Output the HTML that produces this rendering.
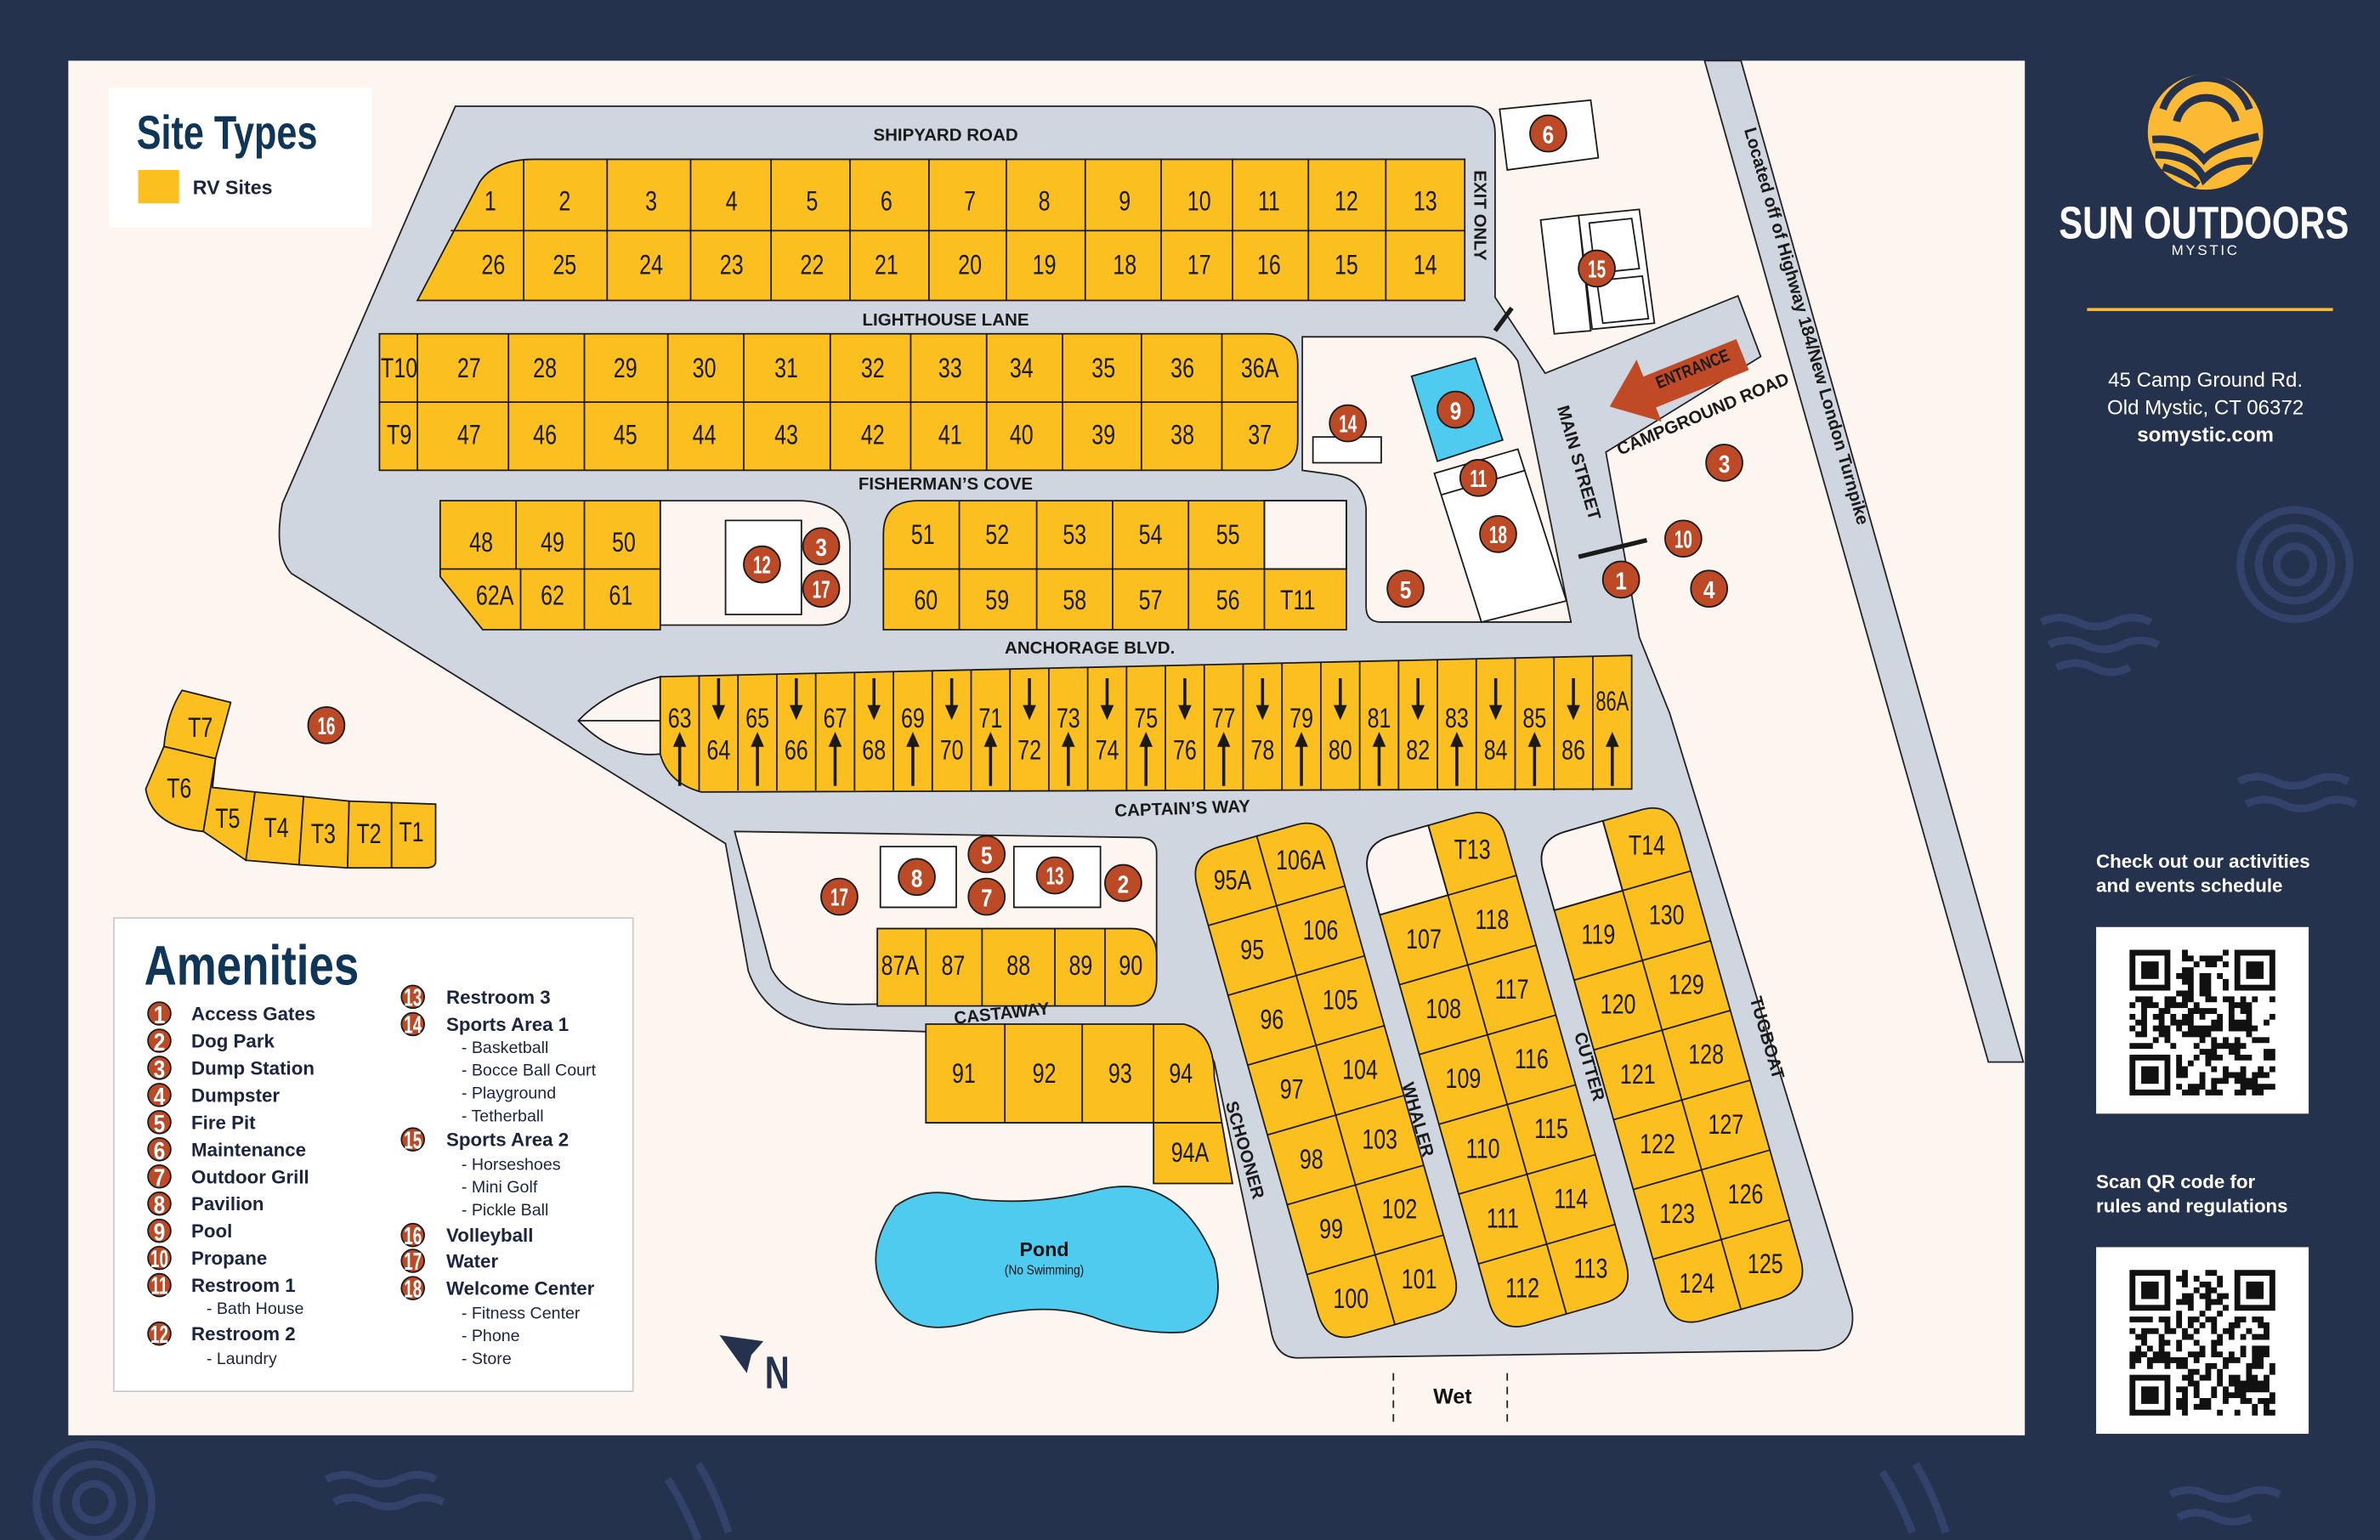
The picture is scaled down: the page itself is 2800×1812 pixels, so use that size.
<!DOCTYPE html>
<html><head><meta charset="utf-8">
<style>
html,body{margin:0;padding:0;background:#25324d;}
body{width:2800px;height:1812px;overflow:hidden;}
svg{display:block}
.n{font-family:"Liberation Sans",sans-serif;font-size:18px;fill:#1a1a1a;text-anchor:middle;dominant-baseline:central;}
.rd{font-family:"Liberation Sans",sans-serif;font-weight:bold;font-size:11.5px;fill:#1a1a1a;text-anchor:middle;dominant-baseline:central;}
.cn{font-family:"Liberation Sans",sans-serif;font-weight:bold;font-size:16px;fill:#fff;text-anchor:middle;dominant-baseline:central;}
.am{font-family:"Liberation Sans",sans-serif;font-weight:bold;font-size:12.5px;fill:#1c2540;}
.sub{font-family:"Liberation Sans",sans-serif;font-size:11px;fill:#1c2540;}
</style></head><body>
<svg id="s" width="2800" height="1812" viewBox="0 0 1568 1015" preserveAspectRatio="none" xmlns="http://www.w3.org/2000/svg">
<rect width="1568" height="1015" fill="#25324d"/>
<g fill="none" stroke="#33426a" stroke-width="5">
<circle cx="1512" cy="372" r="12"/><circle cx="1512" cy="372" r="24"/><circle cx="1512" cy="372" r="36"/>
<circle cx="62" cy="990" r="12"/><circle cx="62" cy="990" r="25"/><circle cx="62" cy="990" r="38"/>
<path d="M1345,410 q12,-6 24,0 t24,0 t24,0 M1350,425 q12,-6 24,0 t24,0 t24,0 M1355,440 q12,-6 24,0 t24,0"/>
<path d="M1475,515 q12,-6 24,0 t24,0 t24,0 M1480,530 q12,-6 24,0 t24,0 t24,0"/>
<path d="M215,975 q12,-6 24,0 t24,0 t24,0 M220,990 q12,-6 24,0 t24,0 t24,0"/>
<path d="M1430,985 q12,-6 24,0 t24,0 t24,0 M1435,1000 q12,-6 24,0 t24,0"/>
<path d="M440,975 q10,15 20,40 M460,965 q10,15 20,45 M1240,970 q10,15 20,40 M1262,965 q10,15 20,45"/>
</g>
<rect x="45" y="40" width="1289" height="906" fill="#fdf5ef"/>
<path d="M1123,40 L1147,40 L1333,700 L1310,700 Z" fill="#d0d6df" stroke="#222" stroke-width="1"/>
<path d="M300,70 L968,70 Q985,70 985,88 L985,196 L1018,246 L1145,195 L1160,235 L1058,298 L1080,420 L1100,470 L1220,862 Q1224,888 1198,890 L855,895 Q842,895 838,880 L800,700 L790,680 L612,680 L545,678 Q505,674 493,640 L478,556 L192,378 Q180,365 186,332 Z" fill="#d0d6df" stroke="#222" stroke-width="1"/>
<path d="M858,222 L975,222 Q990,222 1000,238 L1035,410 L910,410 Q900,410 900,400 L900,335 Q898,316 880,313 L858,310 Z" fill="#fdf5ef" stroke="#222" stroke-width="1"/>
<path d="M435,330 L525,330 Q560,330 560,360 L560,395 Q560,412 540,412 L435,412 Z" fill="#fdf5ef" stroke="#222" stroke-width="1"/>
<path d="M484,548 L752,552 Q762,553 762,562 L762,640 Q762,660 742,660 L560,662 Q520,662 508,638 Z" fill="#fdf5ef" stroke="#222" stroke-width="1"/>
<g id="g"></g>
<path d="M590,795 Q610,780 640,790 Q680,795 720,785 Q775,770 800,830 Q810,870 780,878 Q750,880 720,868 Q690,858 650,868 Q605,885 588,860 Q565,830 590,795 Z" fill="#4fcbef" stroke="#222" stroke-width="1"/>
<text x="688" y="828" font-family="Liberation Sans" font-weight="bold" font-size="13" text-anchor="middle" fill="#111">Pond</text>
<text x="0" y="0" font-family="Liberation Sans" font-size="9" text-anchor="middle" fill="#111" transform="translate(688 840) scale(0.85 1)">(No Swimming)</text>
<path d="M474,880 L503,884 L495,893 L492,905 Z" fill="#25324d"/>
<text x="0" y="0" font-family="Liberation Sans" font-weight="bold" font-size="30" text-anchor="middle" fill="#25324d" transform="translate(512 915) scale(0.75 1)">N</text>
<path d="M918,905 L918,937 M993,905 L993,937" stroke="#222" stroke-width="1" stroke-dasharray="5,4"/>
<text x="957" y="925" font-family="Liberation Sans" font-weight="bold" font-size="14" text-anchor="middle" fill="#111">Wet</text>
<rect x="72" y="58" width="173" height="92" fill="#fff"/>
<text x="0" y="0" font-family="Liberation Sans" font-weight="bold" font-size="31" fill="#0f3558" transform="translate(90 98) scale(0.78 1)">Site Types</text>
<rect x="91" y="112" width="27" height="22" fill="#fbbf1f"/>
<text x="127" y="128" font-family="Liberation Sans" font-weight="bold" font-size="13" fill="#1c2540">RV Sites</text>
<rect x="75" y="605" width="342" height="312" fill="#fff" stroke="#ccc" stroke-width="1"/>
<text x="0" y="0" font-family="Liberation Sans" font-weight="bold" font-size="37" fill="#0f3558" transform="translate(95 649) scale(0.8 1)">Amenities</text>
<g id="leg"></g>
<circle cx="1453" cy="87" r="38" fill="#fbb934"/>
<g fill="none" stroke="#25324d" stroke-width="5">
<path d="M1425,72 A30,30 0 0 1 1482,72"/>
<path d="M1434,80 A20,20 0 0 1 1473,80"/>
<path d="M1418,92 Q1440,90 1452,105 Q1460,96 1488,90"/>
<path d="M1420,102 Q1445,102 1452,118 Q1465,105 1484,106"/>
<path d="M1425,110 Q1440,115 1448,122"/>
</g>
<text x="0" y="0" font-family="Liberation Sans" font-weight="bold" font-size="30" text-anchor="middle" fill="#fff" transform="translate(1452 157) scale(0.78 1)">SUN OUTDOORS</text>
<text x="1453" y="168" font-family="Liberation Sans" font-size="9.5" letter-spacing="1.5" text-anchor="middle" fill="#fff">MYSTIC</text>
<rect x="1375" y="203" width="162" height="2" fill="#fbb934"/>
<text x="1453" y="255" font-family="Liberation Sans" font-size="13.5" text-anchor="middle" fill="#fff">45 Camp Ground Rd.</text>
<text x="1453" y="273" font-family="Liberation Sans" font-size="13.5" text-anchor="middle" fill="#fff">Old Mystic, CT 06372</text>
<text x="1453" y="291" font-family="Liberation Sans" font-weight="bold" font-size="13.5" text-anchor="middle" fill="#fff">somystic.com</text>
<text x="1381" y="572" font-family="Liberation Sans" font-weight="bold" font-size="12.5" fill="#fff">Check out our activities</text>
<text x="1381" y="588" font-family="Liberation Sans" font-weight="bold" font-size="12.5" fill="#fff">and events schedule</text>
<rect x="1381" y="611" width="140" height="123" fill="#fff"/>
<text x="1381" y="783" font-family="Liberation Sans" font-weight="bold" font-size="12.5" fill="#fff">Scan QR code for</text>
<text x="1381" y="799" font-family="Liberation Sans" font-weight="bold" font-size="12.5" fill="#fff">rules and regulations</text>
<rect x="1381" y="822" width="140" height="123" fill="#fff"/>
<g id="qr"></g>
</svg>
<script>
var NS="http://www.w3.org/2000/svg",G=document.getElementById('g');
function el(t,a,p,txt){var e=document.createElementNS(NS,t);for(var k in a)e.setAttribute(k,a[k]);if(txt!=null)e.textContent=txt;(p||G).appendChild(e);return e;}
var Y="#fbbf1f",K="#1a1a1a";
function tx(x,y,s,cls,rot,extra,sx){cls=cls||'n';if(sx==null)sx=(cls=='n'?0.78:1);var a={x:0,y:0,'class':cls,transform:'translate('+x+' '+y+')'+(rot?' rotate('+rot+')':'')+' scale('+sx+' 1)'};if(extra)for(var k in extra)a[k]=extra[k];return el('text',a,null,s);}
function line(x1,y1,x2,y2,w){el('line',{x1:x1,y1:y1,x2:x2,y2:y2,stroke:K,'stroke-width':w||1});}
function path(d,f,sw){el('path',{d:d,fill:f||Y,stroke:K,'stroke-width':sw||1});}
path("M275,198 L316,120 Q326,105 352,105 L965,105 L965,198 Z");
line(297,152,965,152);
[345,400,455,508,560,612,663,715,765,812,862,913].forEach(function(x){line(x,105,x,198);});
var c1=[323,372,429,482,535,584,639,688,741,790,836,887,939];
var t1=['1','2','3','4','5','6','7','8','9','10','11','12','13'],b1=['26','25','24','23','22','21','20','19','18','17','16','15','14'];
c1.forEach(function(x,i){tx(x,133,t1[i]);tx(i==0?325:x,175,b1[i]);});
path("M250,220 L835,220 Q855,220 855,240 L855,290 Q855,310 835,310 L250,310 Z");
line(250,265,855,265);
[275,335,385,440,490,547,600,650,700,752,805].forEach(function(x){line(x,220,x,310);});
var c2=[263,309,359,412,464,518,575,626,673,727,779,830];
var t2=['T10','27','28','29','30','31','32','33','34','35','36','36A'],b2=['T9','47','46','45','44','43','42','41','40','39','38','37'];
c2.forEach(function(x,i){tx(x,243,t2[i]);tx(x,287,b2[i]);});
path("M290,330 L435,330 L435,415 L318,415 L290,380 Z");
line(290,375,435,375);line(340,330,340,375);line(385,330,385,415);line(343,375,343,415);
[[317,'48'],[364,'49'],[411,'50']].forEach(function(a){tx(a[0],358,a[1]);});
[[326,'62A'],[364,'62'],[409,'61']].forEach(function(a){tx(a[0],393,a[1]);});
path("M605,330 L887,330 L887,415 L582,415 L582,352 Q582,330 605,330 Z");
el('rect',{x:833,y:330,width:54,height:45,fill:'#fdf5ef',stroke:K});
line(582,375,887,375);
[632,683,733,783,833].forEach(function(x){line(x,330,x,415);});
[[608,'51'],[657,'52'],[708,'53'],[758,'54'],[809,'55']].forEach(function(a){tx(a[0],353,a[1]);});
[[610,'60'],[657,'59'],[708,'58'],[758,'57'],[809,'56'],[855,'T11']].forEach(function(a){tx(a[0],396,a[1]);});
path("M435,446 Q400,455 381,475 Q405,500 435,497 Z","#fdf5ef");
line(381,475,435,475);
path("M435,446 L1075,432 L1075,520 L462,522 Q440,516 435,497 Z");
var w=25.6;
for(var i=0;i<25;i++){var x0=435+i*w,cx=x0+w/2,ty=446-(x0-435)*14/640;
 if(i>0)line(x0,ty,x0,521);
 var lab=i==24?'86A':String(63+i);
 if(i%2==0){tx(cx,i==24?462:474,lab,'n',0,null,i==24?0.68:0.78);line(cx,489,cx,518,2);path("M"+(cx-4)+",492 L"+cx+",483 L"+(cx+4)+",492 Z",K,0.5);}
 else{line(cx,447,cx,468,2);path("M"+(cx-4)+",465 L"+cx+",474 L"+(cx+4)+",465 Z",K,0.5);tx(cx,495,lab);}
}
[["M120,455 L152,463 L142,500 L108,492 Q110,470 120,455 Z",'T7',132,480],
 ["M108,492 L142,500 L134,548 Q100,545 96,520 Z",'T6',118,520],
 ["M142,500 L140,519 L168,522 L162,567 L134,548 Z",'T5',150,540],
 ["M168,522 L200,525 L197,570 L162,567 Z",'T4',182,546],
 ["M200,525 L230,528 L229,572 L197,570 Z",'T3',213,550],
 ["M230,528 L258,529 L258,572 L229,572 Z",'T2',243,550],
 ["M258,529 L287,530 L287,568 Q287,572 280,572 L258,572 Z",'T1',271,549]].forEach(function(a){path(a[0]);tx(a[2],a[3],a[1]);});
path("M578,612 L745,612 Q762,612 762,630 L762,645 Q762,663 745,663 L578,663 Z");
[610,647,695,728].forEach(function(x){line(x,612,x,663);});
[[593,'87A'],[628,'87'],[671,'88'],[712,'89'],[745,'90']].forEach(function(a){tx(a[0],637,a[1]);});
path("M610,675 L780,675 Q800,680 800,710 L805,740 L610,740 Z");
[662,713,760].forEach(function(x){line(x,675,x,740);});
path("M760,740 L805,740 L812,780 L760,780 Z");
[[635,'91'],[688,'92'],[738,'93'],[778,'94']].forEach(function(a){tx(a[0],708,a[1]);});
tx(784,760,'94A');
var U=[45,-13],V=[13,46];
function P(o,a,b){return [o[0]+a*U[0]+b*V[0],o[1]+a*U[1]+b*V[1]];}
function slab(o,labs,blank){
 var r=0.45;
 var c=[P(o,0,0),P(o,2,0),P(o,2,7),P(o,0,7)];
 function pt(p){return p[0].toFixed(1)+','+p[1].toFixed(1);}
 var d="M"+pt(P(o,0,r))+" Q"+pt(c[0])+" "+pt(P(o,r,0))+" L"+pt(P(o,2-r,0))+" Q"+pt(c[1])+" "+pt(P(o,2,r))+" L"+pt(P(o,2,7-r))+" Q"+pt(c[2])+" "+pt(P(o,2-r,7))+" L"+pt(P(o,r,7))+" Q"+pt(c[3])+" "+pt(P(o,0,7-r))+" Z";
 path(d);
 if(blank){var q=[P(o,0,r),P(o,r,0),P(o,1,0),P(o,1,1),P(o,0,1)];
  path("M"+pt(q[0])+" Q"+pt(c[0])+" "+pt(q[1])+" L"+pt(q[2])+" L"+pt(q[3])+" L"+pt(q[4])+" Z","#fdf5ef");}
 for(var b=1;b<7;b++){var a1=P(o,0,b),a2=P(o,2,b);line(a1[0],a1[1],a2[0],a2[1]);}
 var m1=P(o,1,0),m2=P(o,1,7);line(m1[0],m1[1],m2[0],m2[1]);
 labs.forEach(function(l){var p=P(o,l[1]+0.5,l[2]+0.5);tx(p[0],p[1],l[0]);});
}
slab([783,564],[['95A',0,0],['106A',1,0],['95',0,1],['106',1,1],['96',0,2],['105',1,2],['97',0,3],['104',1,3],['98',0,4],['103',1,4],['99',0,5],['102',1,5],['100',0,6],['101',1,6]]);
slab([896,557],[['T13',1,0],['107',0,1],['118',1,1],['108',0,2],['117',1,2],['109',0,3],['116',1,3],['110',0,4],['115',1,4],['111',0,5],['114',1,5],['112',0,6],['113',1,6]],true);
slab([1011,554],[['T14',1,0],['119',0,1],['130',1,1],['120',0,2],['129',1,2],['121',0,3],['128',1,3],['122',0,4],['127',1,4],['123',0,5],['126',1,5],['124',0,6],['125',1,6]],true);
function box(d,f){path(d,f||'#fff');}
box("M988,72 L1048,66 L1053,104 L993,112 Z");
box("M1015,145 L1040,142 L1048,218 L1024,220 Z");box("M1040,142 L1080,138 L1090,213 L1049,217 Z");
box("M1047,147 L1075,144 L1080,177 L1051,180 Z");box("M1052,185 L1082,182 L1086,210 L1056,213 Z");
box("M930,248 L972,236 L990,290 L947,304 Z","#4fcbef");
box("M945,312 L1000,296 L1032,396 L976,410 Z");line(950,326,1005,310);
box("M865,288 L910,288 L910,305 L865,305 Z");
box("M478,343 L528,343 L528,405 L478,405 Z");
box("M580,558 L630,558 L630,598 L580,598 Z");box("M668,558 L725,558 L725,598 L668,598 Z");
line(985,218,996,203,3);line(1040,367,1085,356,3);
el('path',{d:"M-48,0 L-20,-22 L-20,-10 L46,-10 L46,12 L-20,12 L-20,22 Z",fill:'#c04a26',transform:'translate(1105,250) rotate(-22)'});
tx(1115,243,'ENTRANCE','rd',-22,{fill:'#fff','font-size':'11'},0.8);
tx(623,89,'SHIPYARD ROAD','rd');tx(623,211,'LIGHTHOUSE LANE','rd');tx(623,319,"FISHERMAN\u2019S COVE",'rd');
tx(718,427,'ANCHORAGE BLVD.','rd');tx(779,533,"CAPTAIN\u2019S WAY",'rd',-2);tx(660,668,'CASTAWAY','rd',-6);
tx(975,142,'EXIT ONLY','rd',90);tx(1040,305,'MAIN STREET','rd',74);tx(1122,273,'CAMPGROUND ROAD','rd',-23,{'font-size':'12.5'});
tx(820,758,'SCHOONER','rd',74);tx(934,738,'WHALER','rd',74);tx(1047,703,'CUTTER','rd',74);tx(1164,684,'TUGBOAT','rd',74);
tx(1190,215,'Located off of Highway 184/New London Turnpike','rd',74,{'font-weight':'normal','font-size':'11'});
function cc(x,y,n,r,p){el('circle',{cx:x,cy:y,r:r||12,fill:'#bd4a27',stroke:K,'stroke-width':1},p);el('text',{x:0,y:0,'class':'cn','font-size':r?r*1.3:17,transform:'translate('+x+' '+(y+1)+') scale('+(n.length>1?0.66:0.85)+' 1)'},p,n);}
[[1020,88,'6'],[1052,177,'15'],[888,279,'14'],[959,270,'9'],[974,315,'11'],[987,352,'18'],[926,388,'5'],[1136,305,'3'],[1109,355,'10'],[1126,388,'4'],[1068,382,'1'],
 [502,372,'12'],[541,360,'3'],[541,388,'17'],[215,478,'16'],[553,591,'17'],[604,578,'8'],[650,563,'5'],[650,591,'7'],[695,577,'13'],[740,582,'2']].forEach(function(a){cc(a[0],a[1],a[2]);});
var L=document.getElementById('leg');
var left=[['1','Access Gates'],['2','Dog Park'],['3','Dump Station'],['4','Dumpster'],['5','Fire Pit'],['6','Maintenance'],['7','Outdoor Grill'],['8','Pavilion'],['9','Pool'],['10','Propane'],['11','Restroom 1']];
left.forEach(function(a,i){var y=668+i*17.9;cc(105,y,a[0],7.5,L);el('text',{x:126,y:y+4.5,'class':'am'},L,a[1]);});
el('text',{x:136,y:866,'class':'sub'},L,'- Bath House');
cc(105,879,'12',7.5,L);el('text',{x:126,y:883.5,'class':'am'},L,'Restroom 2');
el('text',{x:136,y:899,'class':'sub'},L,'- Laundry');
var R=[[657,'13','Restroom 3'],[675,'14','Sports Area 1'],[690,null,'- Basketball'],[705,null,'- Bocce Ball Court'],[720,null,'- Playground'],[735,null,'- Tetherball'],[751,'15','Sports Area 2'],[767,null,'- Horseshoes'],[782,null,'- Mini Golf'],[797,null,'- Pickle Ball'],[814,'16','Volleyball'],[831,'17','Water'],[849,'18','Welcome Center'],[865,null,'- Fitness Center'],[880,null,'- Phone'],[895,null,'- Store']];
R.forEach(function(a){if(a[1]){cc(272,a[0],a[1],7.5,L);el('text',{x:294,y:a[0]+4.5,'class':'am'},L,a[2]);}else el('text',{x:304,y:a[0]+4,'class':'sub'},L,a[2]);});
var Q=document.getElementById('qr');
function qr(x0,y0,sz,seed){var n=25,m=sz/n,s=seed;function rnd(){s=(s*1103515245+12345)%2147483648;return s/2147483648;}
 function fin(cx,cy){el('rect',{x:x0+cx*m,y:y0+cy*m,width:7*m,height:7*m,fill:'#111'},Q);el('rect',{x:x0+(cx+1)*m,y:y0+(cy+1)*m,width:5*m,height:5*m,fill:'#fff'},Q);el('rect',{x:x0+(cx+2)*m,y:y0+(cy+2)*m,width:3*m,height:3*m,fill:'#111'},Q);}
 var d='';for(var i=0;i<n;i++)for(var j=0;j<n;j++){if((i<8&&j<8)||(i<8&&j>n-9)||(i>n-9&&j<8))continue;if(rnd()<0.5)d+='M'+(x0+j*m).toFixed(2)+','+(y0+i*m).toFixed(2)+'h'+m.toFixed(2)+'v'+m.toFixed(2)+'h-'+m.toFixed(2)+'z';}
 el('path',{d:d,fill:'#111'},Q);fin(0,0);fin(n-7,0);fin(0,n-7);}
qr(1403,626,96,7);qr(1403,837,96,91);
</script>
</body></html>
